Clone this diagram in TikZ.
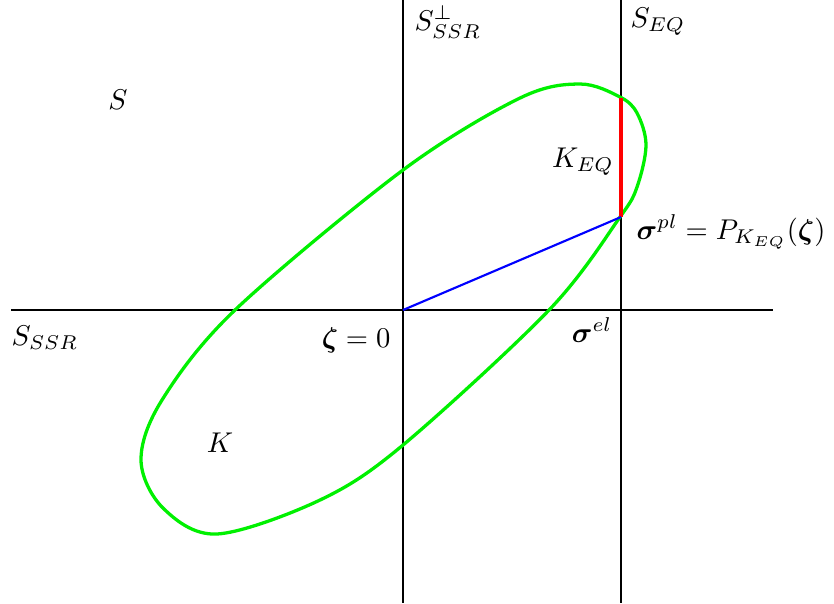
\documentclass[tikz,border=0pt]{standalone}
\usepackage{amsmath,amssymb,bm}
\usetikzlibrary{positioning}
\definecolor{setGreen}{HTML}{00F000}

\begin{document}
\begin{tikzpicture}[x=0.35pt,y=-0.35pt,
    axis/.style={line width=0.65pt,black},
    setcurve/.style={line width=1.15pt,setGreen},
    lbl/.style={inner sep=0pt}]
  \useasboundingbox (0,0) rectangle (834,603);
  % axes
  \coordinate (Hl) at (11,310);
  \coordinate (Hr) at (773,310);
  \coordinate (Vt) at (403,0);
  \coordinate (Vb) at (403,603);
  \coordinate (Et) at (621,0);
  \coordinate (Eb) at (621,603);
  \draw[axis] (Hl) -- (Hr);
  \draw[axis] (Vt) -- (Vb);
  \draw[axis] (Et) -- (Eb);
  % convex set K
  \draw[setcurve] plot[smooth cycle,tension=0.55] coordinates {
    (646,145) (637,187) (620,217) (550,309)
    (403,445) (320,500) (217,534) (163,508) (141,460) (162,400)
    (235,310) (403,170) (520,98) (580,84)
    (620,97) (637,113)};
  % projection
  \coordinate (O) at (403,310);
  \coordinate (Ppl) at (621,217);
  \coordinate (Ptop) at (621,98);
  \draw[red,line width=1.3pt] (Ptop) -- (Ppl);
  \draw[blue,line width=0.75pt] (O) -- (Ppl);
  % labels
  \node[lbl] (S) at (118,100) {$S$};
  \node[lbl,anchor=west] (Sperp) at (414,22) {$S_{SSR}^{\perp}$};
  \node[lbl,anchor=west] (Seq) at (630,22) {$S_{EQ}$};
  \node[lbl] (Keq) at (583,162) {$K_{EQ}$};
  \node[lbl,anchor=west] (sigpl) at (636,232) {$\bm{\sigma}^{pl}=P_{K_{EQ}}(\bm{\zeta})$};
  \node[lbl,anchor=west] (Sssr) at (11,338) {$S_{SSR}$};
  \node[lbl,anchor=east] (zeta) at (391,340) {$\bm{\zeta}=0$};
  \node[lbl] (sigel) at (592,330) {$\bm{\sigma}^{el}$};
  \node[lbl] (K) at (220,443) {$K$};
\end{tikzpicture}
\end{document}
